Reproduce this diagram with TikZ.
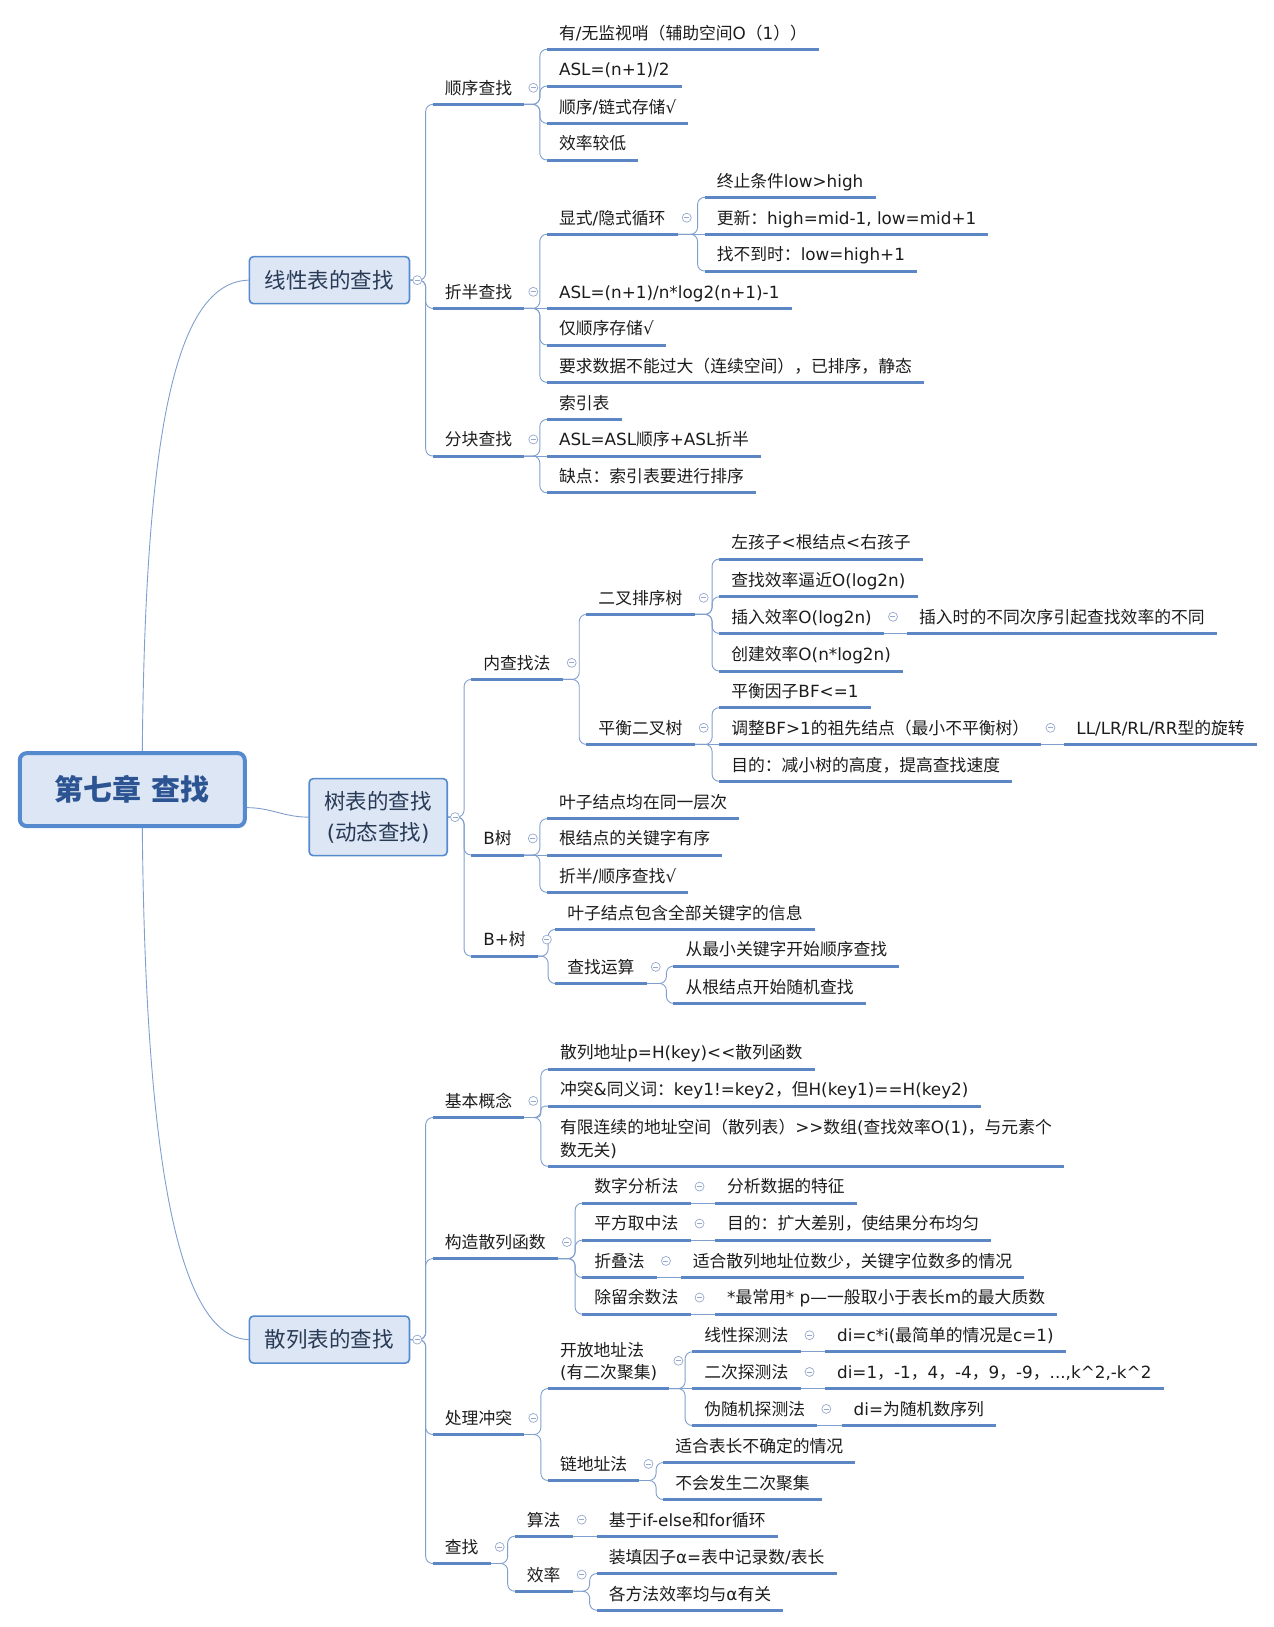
\documentclass[tikz,border=0pt]{standalone}
\usepackage{fontspec}
\newfontfamily\cjk{Noto Sans CJK SC}
\newfontfamily\latf{DejaVu Sans}
% CJK letters in Noto Sans CJK, the rest in DejaVu Sans
\XeTeXinterchartokenstate=1
\newXeTeXintercharclass\cjkcls
\newcount\cjkcnt
\cjkcnt="3000 \loop\XeTeXcharclass\cjkcnt=\cjkcls\advance\cjkcnt by 1 \ifnum\cjkcnt<"A000 \repeat
\cjkcnt="FF00 \loop\XeTeXcharclass\cjkcnt=\cjkcls\advance\cjkcnt by 1 \ifnum\cjkcnt<"FFF0 \repeat
\XeTeXinterchartoks 0 \cjkcls = {\cjk}
\XeTeXinterchartoks 4095 \cjkcls = {\cjk}
\XeTeXinterchartoks \cjkcls 0 = {\latf}
\XeTeXinterchartoks \cjkcls 4095 = {\latf}
\usetikzlibrary{backgrounds}
\definecolor{boxc}{RGB}{86,138,206}
\definecolor{boxfill}{RGB}{220,230,244}
\definecolor{rootc}{RGB}{44,84,146}
\definecolor{headc}{RGB}{40,58,86}
\definecolor{ulc}{RGB}{92,134,196}
\definecolor{linkc}{RGB}{128,158,206}
\definecolor{foldc}{RGB}{150,168,205}
\definecolor{txtc}{RGB}{28,28,28}
\begin{document}
\begin{tikzpicture}[x=1.0375pt,y=-1.0375pt,
  root/.style={draw=boxc,line width=4pt,fill=boxfill,rounded corners=7pt,minimum width=225pt,minimum height=73pt,
    font=\latf\bfseries\fontsize{29}{34}\selectfont,text=rootc},
  head/.style={draw=boxc,line width=1.6pt,fill=boxfill,rounded corners=4pt,minimum width=160pt,minimum height=47pt,
    align=center,font=\latf\fontsize{21.5}{31}\selectfont,text=headc},
  topic/.style={anchor=south west,inner xsep=12pt,inner ysep=6pt,text height=16.8pt,text depth=4pt,align=left,
    font=\latf\fontsize{16.8}{22.3}\selectfont,text=txtc,
    append after command={(\tikzlastnode.south west) edge[uline] (\tikzlastnode.south east)}},
  uline/.style={draw=ulc,line width=3pt},
  link/.style={draw=linkc,line width=0.9pt,rounded corners=7pt},
  fold/.style={circle,draw=foldc,fill=white,line width=0.7pt,minimum size=9pt,inner sep=0pt,
    path picture={\draw[foldc,line width=0.7pt] ([xshift=-2.5pt]path picture bounding box.center) -- ([xshift=2.5pt]path picture bounding box.center);}}
  ]
  \useasboundingbox (0,0) rectangle (1227,1568);

  % main topics
  \node[root] (root) at (127.5,761) {第七章 查找};
  \node[head] (lin) at (317.5,270) {线性表的查找};
  \node[head,minimum width=138pt,minimum height=77pt] (tree) at (364.5,787.5) {树表的查找\\(动态查找)};
  \node[head] (hash) at (317.5,1291) {散列表的查找};

  % linear tables
  \node[topic] (s1) at (417,100.6) {顺序查找};
  \node[topic] (s1a) at (527,47.5) {有/无监视哨（辅助空间O（1））};
  \node[topic] (s1b) at (527,82.9) {ASL=(n+1)/2};
  \node[topic] (s1c) at (527,118.9) {顺序/链式存储√};
  \node[topic] (s1d) at (527,154.2) {效率较低};
  \node[topic] (s2) at (417,297.2) {折半查找};
  \node[topic] (s2a) at (527,225.8) {显式/隐式循环};
  \node[topic] (s2a1) at (679,190.2) {终止条件low>high};
  \node[topic] (s2a2) at (679,225.8) {更新：high=mid-1, low=mid+1};
  \node[topic] (s2a3) at (679,261.2) {找不到时：low=high+1};
  \node[topic] (s2b) at (527,297.2) {ASL=(n+1)/n*log2(n+1)-1};
  \node[topic] (s2c) at (527,332.5) {仅顺序存储√};
  \node[topic] (s2d) at (527,368.5) {要求数据不能过大（连续空间），已排序，静态};
  \node[topic] (s3) at (417,439.5) {分块查找};
  \node[topic] (s3a) at (527,404.2) {索引表};
  \node[topic] (s3b) at (527,439.5) {ASL=ASL顺序+ASL折半};
  \node[topic] (s3c) at (527,474.9) {缺点：索引表要进行排序};

  % tree tables
  \node[topic] (t1) at (454,654.8) {内查找法};
  \node[topic] (t1a) at (565,592.1) {二叉排序树};
  \node[topic] (t1a1) at (693,538.8) {左孩子<根结点<右孩子};
  \node[topic] (t1a2) at (693,575.1) {查找效率逼近O(log2n)};
  \node[topic] (t1a3) at (693,610.4) {插入效率O(log2n)};
  \node[topic] (t1a3x) at (874,610.4) {插入时的不同次序引起查找效率的不同};
  \node[topic] (t1a4) at (693,646.7) {创建效率O(n*log2n)};
  \node[topic] (t1b) at (565,717.4) {平衡二叉树};
  \node[topic] (t1b1) at (693,682) {平衡因子BF<=1};
  \node[topic] (t1b2) at (693,717.4) {调整BF>1的祖先结点（最小不平衡树）};
  \node[topic] (t1b2x) at (1025.6,717.4) {LL/LR/RL/RR型的旋转};
  \node[topic] (t1b3) at (693,753) {目的：减小树的高度，提高查找速度};
  \node[topic] (t2) at (454,824) {B树};
  \node[topic] (t2a) at (527,789) {叶子结点均在同一层次};
  \node[topic] (t2b) at (527,824) {根结点的关键字有序};
  \node[topic] (t2c) at (527,860) {折半/顺序查找√};
  \node[topic] (t3) at (454,921.5) {B+树};
  \node[topic] (t3a) at (535,895.7) {叶子结点包含全部关键字的信息};
  \node[topic] (t3b) at (535,947.8) {查找运算};
  \node[topic] (t3b1) at (649,931) {从最小关键字开始顺序查找};
  \node[topic] (t3b2) at (649,967) {从根结点开始随机查找};

  % hash tables
  \node[topic] (h1) at (417,1077) {基本概念};
  \node[topic] (h1a) at (528,1030.4) {散列地址p=H(key)<<散列函数};
  \node[topic] (h1b) at (528,1066) {冲突\&同义词：key1!=key2，但H(key1)==H(key2)};
  \node[topic,text height=39.1pt] (h1c) at (528,1124) {有限连续的地址空间（散列表）>>数组(查找效率O(1)，与元素个\\数无关)};
  \node[topic] (h2) at (417,1213) {构造散列函数};
  \node[topic] (h2a) at (561,1159.5) {数字分析法};
  \node[topic] (h2a1) at (689,1159.5) {分析数据的特征};
  \node[topic] (h2b) at (561,1195.2) {平方取中法};
  \node[topic] (h2b1) at (689,1195.2) {目的：扩大差别，使结果分布均匀};
  \node[topic] (h2c) at (561,1231.2) {折叠法};
  \node[topic] (h2c1) at (656,1231.2) {适合散列地址位数少，关键字位数多的情况};
  \node[topic] (h2d) at (561,1266.5) {除留余数法};
  \node[topic] (h2d1) at (689,1266.5) {*最常用* p—一般取小于表长m的最大质数};
  \node[topic] (h3) at (417,1382.5) {处理冲突};
  \node[topic,text height=39.1pt] (h3a) at (528,1338.2) {开放地址法\\(有二次聚集)};
  \node[topic] (h3a1) at (667,1302.8) {线性探测法};
  \node[topic] (h3a1x) at (795,1302.8) {di=c*i(最简单的情况是c=1)};
  \node[topic] (h3a2) at (667,1338.2) {二次探测法};
  \node[topic] (h3a2x) at (795,1338.2) {di=1，-1，4，-4，9，-9，...,k\textasciicircum2,-k\textasciicircum2};
  \node[topic] (h3a3) at (667,1373.8) {伪随机探测法};
  \node[topic] (h3a3x) at (811,1373.8) {di=为随机数序列};
  \node[topic] (h3b) at (528,1426.8) {链地址法};
  \node[topic] (h3b1) at (639,1409.5) {适合表长不确定的情况};
  \node[topic] (h3b2) at (639,1445.2) {不会发生二次聚集};
  \node[topic] (h4) at (417,1506.8) {查找};
  \node[topic] (h4a) at (496,1480.5) {算法};
  \node[topic] (h4a1) at (575,1480.5) {基于if-else和for循环};
  \node[topic] (h4b) at (496,1533.5) {效率};
  \node[topic] (h4b1) at (575,1516.5) {装填因子α=表中记录数/表长};
  \node[topic] (h4b2) at (575,1551.8) {各方法效率均与α有关};

  % connectors
  \begin{scope}[on background layer]
    \draw[link] ([xshift=10pt]root.north) .. controls (140,420) and (168,272) .. (lin.west);
    \draw[link] ([xshift=10pt]root.south) .. controls (140,1100) and (168,1289) .. (hash.west);
    \draw[link] ([yshift=-18pt]root.east) to[out=0,in=180] (tree.west);
    \foreach \p/\c in {lin/s1,lin/s2,lin/s3,tree/t1,tree/t2,tree/t3,hash/h1,hash/h2,hash/h3,hash/h4}
      \draw[link] (\p.east) -| ([xshift=-7pt]\c.south west) -- ([xshift=10pt]\c.south west);
    \foreach \p/\c in {s1/s1a,s1/s1b,s1/s1c,s1/s1d,s2/s2a,s2/s2c,s2/s2d,s2a/s2a1,s2a/s2a3,s3/s3a,s3/s3c,
        t1/t1a,t1/t1b,t1a/t1a1,t1a/t1a2,t1a/t1a3,t1a/t1a4,t1b/t1b1,t1b/t1b3,t2/t2a,t2/t2c,t3/t3a,t3/t3b,
        t3b/t3b1,t3b/t3b2,h1/h1a,h1/h1c,h2/h2a,h2/h2b,h2/h2c,h2/h2d,h3/h3a,h3/h3b,h3a/h3a1,h3a/h3a3,
        h3b/h3b1,h3b/h3b2,h4/h4a,h4/h4b,h4b/h4b1,h4b/h4b2}
      \draw[link] (\p.south east) -| ([xshift=-7pt]\c.south west) -- ([xshift=10pt]\c.south west);
    \draw[link,rounded corners=4pt] (h1.south east) -| ([xshift=-7pt]h1b.south west) -- ([xshift=10pt]h1b.south west);
    \foreach \p/\c in {s2/s2b,s2a/s2a2,s3/s3b,t1a3/t1a3x,t1b/t1b2,t1b2/t1b2x,t2/t2b,h2a/h2a1,h2b/h2b1,
        h2c/h2c1,h2d/h2d1,h3a/h3a2,h3a1/h3a1x,h3a2/h3a2x,h3a3/h3a3x,h4a/h4a1}
      \draw[link] (\p.south east) -- (\c.south west);
  \end{scope}

  % fold markers
  \foreach \n in {lin,tree,hash}
    \node[fold] (m-\n) at ([xshift=7pt]\n.east) {};
  \foreach \n in {s1,s2,s2a,s3,t1,t1a,t1a3,t1b,t1b2,t2,t3,t3b,h1,h2,h2a,h2b,h2c,h2d,h3,h3a,h3a1,h3a2,h3a3,h3b,h4,h4a,h4b}
    \node[fold] (m-\n) at ([xshift=9pt]\n.east) {};
\end{tikzpicture}
\end{document}
